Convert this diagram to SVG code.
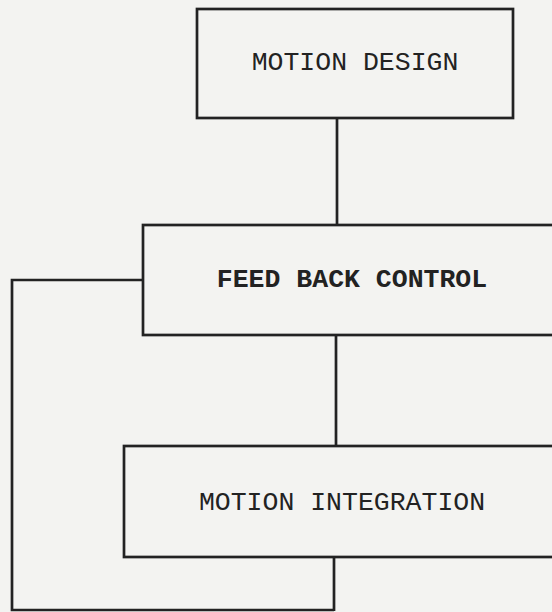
<svg xmlns="http://www.w3.org/2000/svg" width="552" height="612" viewBox="0 0 552 612">
<style>
.box{fill:none;stroke:#222;stroke-width:2.7}
.ln{fill:none;stroke:#222;stroke-width:2.7}
.t{font-family:"Liberation Mono","DejaVu Sans Mono",monospace;font-size:26.5px;fill:#222}
.tb{font-family:"Liberation Mono","DejaVu Sans Mono",monospace;font-size:26.5px;font-weight:bold;fill:#222}
</style>
<rect x="0" y="0" width="552" height="612" fill="#f3f3f1"/>
<g id="connectors">
<line class="ln" x1="337" y1="118" x2="337" y2="225"/>
<line class="ln" x1="336" y1="335" x2="336" y2="446"/>
<line class="ln" x1="334" y1="557" x2="334" y2="611"/>
<polyline class="ln" points="143,280 12,280 12,610 334,610"/>
</g>
<g id="motion-design">
<rect class="box" x="197" y="9" width="316" height="109"/>
<text class="t" x="355" y="70" text-anchor="middle">MOTION DESIGN</text>
</g>
<g id="feed-back-control">
<rect class="box" x="143" y="225" width="420" height="110"/>
<text class="tb" x="352" y="287" text-anchor="middle">FEED BACK CONTROL</text>
</g>
<g id="motion-integration">
<rect class="box" x="124" y="446" width="440" height="111"/>
<text class="t" x="342" y="510" text-anchor="middle">MOTION INTEGRATION</text>
</g>
</svg>
